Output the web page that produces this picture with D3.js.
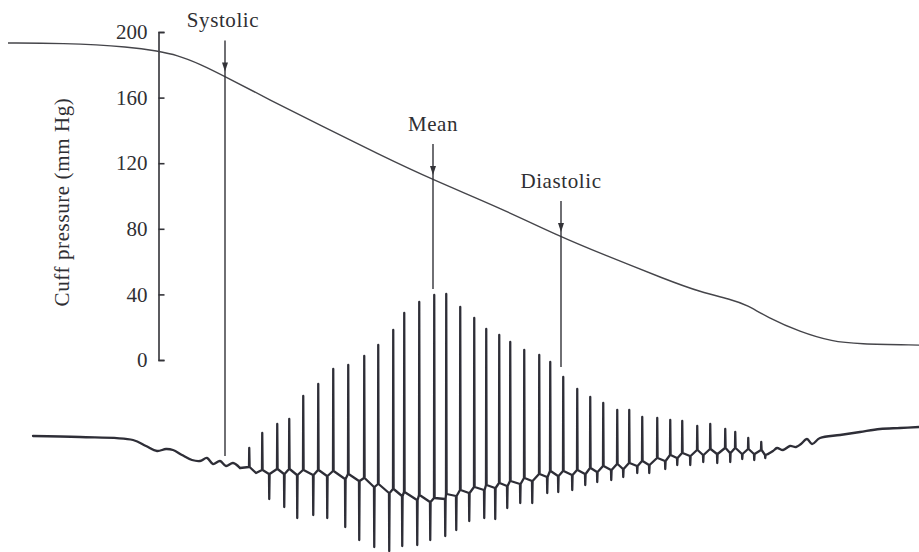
<!DOCTYPE html>
<html>
<head>
<meta charset="utf-8">
<script src="https://cdn.jsdelivr.net/npm/d3@7"></script>
<style>
  html, body { margin: 0; padding: 0; background: #ffffff; }
  svg { display: block; }
  text { font-family: "Liberation Serif", "Times New Roman", serif; fill: #2f2f33; }
</style>
</head>
<body>
<svg id="chart" width="919" height="552"></svg>
<script>
// Cuff pressure during deflation (time in s, pressure in mm Hg)
const pressureTime  = [0.4, 3, 6.65, 7.85, 8.85, 10, 11.25, 13.5, 16, 19, 21.65, 25, 28.05, 30, 33.35, 35, 36.65, 37.35, 38.35, 40, 41.65, 42.85, 45.95];
const pressureValue = [193.3, 193.3, 190.9, 188.4, 186, 180.5, 172.9, 158.5, 143.3, 125, 109.8, 92.7, 75, 65.2, 48.8, 41.5, 36.6, 33.5, 26.2, 17.1, 11.2, 9.8, 9.1];

// Oscillation trace (arbitrary units), upward pulses
const upTime = [12.45, 13.1, 13.85, 14.45, 15.15, 15.9, 16.65, 17.4, 18.2, 18.9, 19.65, 20.2, 20.95, 21.7, 22.3, 23.0, 23.7, 24.3, 24.95, 25.5, 26.2, 26.95, 27.5, 28.15, 28.85, 29.5, 30.15, 30.85, 31.45, 32.1, 32.85, 33.5, 34.1, 34.85, 35.5, 36.25, 36.75, 37.4, 38.05];
const upPeak = [-8, 7, 16, 21, 44, 56, 71, 75, 84, 95, 110, 127, 138, 145, 146, 133, 122, 111, 105, 98, 90, 85, 78, 63, 51, 43, 37, 30, 30, 23, 22, 20, 19, 14, 16, 11, 8, 2, -2];
const upBase = [-27, -30, -29, -29, -30, -30, -31, -34, -38, -44, -49, -52, -55, -58, -54, -50, -47, -45, -43, -41, -38, -34, -31, -31, -30, -28, -26, -24, -23, -21, -18, -15, -13, -10, -9, -8, -8, -9, -10];

// Downward pulses
const downTime = [13.45, 14.2, 14.85, 15.65, 16.35, 17.25, 17.95, 18.7, 19.45, 20.1, 20.85, 21.5, 22.25, 22.8, 23.45, 24.2, 24.75, 25.35, 26.0, 26.6, 27.35, 27.9, 28.6, 29.25, 29.85, 30.55, 31.15, 31.85, 32.45, 33.25, 33.85, 34.5, 35.15, 35.85, 36.5, 37.1, 37.7, 38.25];
const downTrough = [-59, -67, -78, -75, -78, -87, -100, -107, -111, -106, -105, -100, -96, -90, -81, -78, -79, -68, -63, -63, -53, -52, -50, -45, -42, -40, -37, -33, -33, -29, -25, -25, -22, -23, -22, -19, -20, -18];
const downBase = [-34, -34, -35, -35, -36, -39, -41, -47, -53, -56, -60, -62, -59, -56, -53, -50, -48, -46, -44, -41, -37, -36, -35, -34, -32, -30, -29, -26, -25, -21, -18, -16, -15, -14, -13, -14, -14, -15];

// Trace before the first pulse and after the last one
const leadTime  = [1.65, 4, 6.65, 7.3, 7.85, 8.3, 8.65, 9.1, 9.6, 10, 10.35, 10.65, 11, 11.3, 11.65, 12, 12.8];
const leadValue = [4, 3, 0, -6, -11, -9, -10, -15, -20, -21, -18, -24, -21, -26, -23, -28, -33];
const tailTime  = [38.4, 38.65, 38.85, 39.15, 39.5, 39.8, 40.05, 40.35, 40.6, 41, 42, 43, 44, 45, 45.95];
const tailValue = [-14, -11, -8, -10, -6, -7, -4, 1, -4, 2, 5, 8, 11, 12, 13];

// Marked pressures
const markerLabel = ["Systolic", "Mean", "Diastolic"];
const markerTime = [11.25, 21.65, 28.05];
const markerPressure = [172.9, 109.8, 75];
const markerReach = [-16, 151, 73];

const pressureTicks = [0, 40, 80, 120, 160, 200];

const svg = d3.select("#chart");
const ink = "#333338";
const traceInk = "#2e2e37";

const x = d3.scaleLinear().domain([0, 46]).range([0, 920]);
const yP = d3.scaleLinear().domain([0, 200]).range([360, 32]);
const yOsc = d3.scaleLinear().domain([-120, 160]).range([560, 280]);

// Pressure axis, ticks pointing inward
const axis = d3.axisLeft(yP).tickValues(pressureTicks).tickSizeInner(-6).tickSizeOuter(-6).tickPadding(11);
const gAxis = svg.append("g").attr("transform", "translate(158.5,0)").call(axis);
gAxis.selectAll("path, line").attr("stroke", ink).attr("stroke-width", 1.6);
gAxis.selectAll("text").style("font-size", "21px").attr("fill", "#2f2f33")
  .style("font-family", "'Liberation Serif', serif");

svg.append("text")
  .attr("transform", "translate(69,202) rotate(-90)")
  .attr("text-anchor", "middle")
  .style("font-size", "21px")
  .style("letter-spacing", "0.6px")
  .text("Cuff pressure (mm Hg)");

// Cuff pressure curve
const pressurePts = pressureTime.map((t, i) => [t, pressureValue[i]]);
svg.append("path")
  .datum(pressurePts)
  .attr("fill", "none")
  .attr("stroke", "#45454a")
  .attr("stroke-width", 1.4)
  .attr("d", d3.line().x(d => x(d[0])).y(d => yP(d[1])).curve(d3.curveBasis));

// Oscillation trace
const firstPulse = upTime[0];
const lastPulse = downTime[downTime.length - 1];
const leadPts = leadTime.map((t, i) => [t, leadValue[i]]);
const tailPts = tailTime.map((t, i) => [t, tailValue[i]]);

// smooth run-in and run-out
const smooth = d3.line().x(d => x(d[0])).y(d => yOsc(d[1])).curve(d3.curveCatmullRom.alpha(0.5));
const sharp = d3.line().x(d => x(d[0])).y(d => yOsc(d[1]));

const leadSmooth = leadPts.filter(d => d[0] < firstPulse);
const verts = [leadSmooth[leadSmooth.length - 1]];
leadPts.filter(d => d[0] >= firstPulse).forEach(d => verts.push(d));
upTime.forEach((t, i) => {
  verts.push([t, upBase[i]], [t + 0.012, upPeak[i]], [t + 0.03, upBase[i]]);
});
downTime.forEach((t, i) => {
  verts.push([t, downBase[i]], [t + 0.012, downTrough[i]], [t + 0.03, downBase[i]]);
});
verts.push(tailPts[0]);
verts.sort((a, b) => a[0] - b[0]);

const traceStyle = sel => sel
  .attr("fill", "none")
  .attr("stroke", traceInk)
  .attr("stroke-width", 2.3)
  .attr("stroke-linejoin", "round")
  .attr("stroke-linecap", "round");

svg.append("path").datum(leadSmooth).call(traceStyle).attr("d", smooth);
svg.append("path").datum(verts).call(traceStyle).attr("d", sharp);
svg.append("path").datum(tailPts).call(traceStyle).attr("d", smooth);

// Systolic / mean / diastolic markers
markerLabel.forEach((label, i) => {
  const mx = x(markerTime[i]);
  const cy = yP(markerPressure[i]);
  const top = cy - 36;
  const tip = cy - 5;
  svg.append("line")
    .attr("x1", mx).attr("x2", mx)
    .attr("y1", top).attr("y2", yOsc(markerReach[i]))
    .attr("stroke", ink).attr("stroke-width", 1.4);
  svg.append("path")
    .attr("d", `M${mx - 3},${tip - 9}L${mx + 3},${tip - 9}L${mx},${tip}Z`)
    .attr("fill", ink);
  svg.append("text")
    .attr("x", mx - (i === 0 ? 2 : 0))
    .attr("y", cy - 49)
    .attr("text-anchor", "middle")
    .style("font-size", "21px")
    .style("letter-spacing", "0.6px")
    .text(label);
});
</script>
</body>
</html>
